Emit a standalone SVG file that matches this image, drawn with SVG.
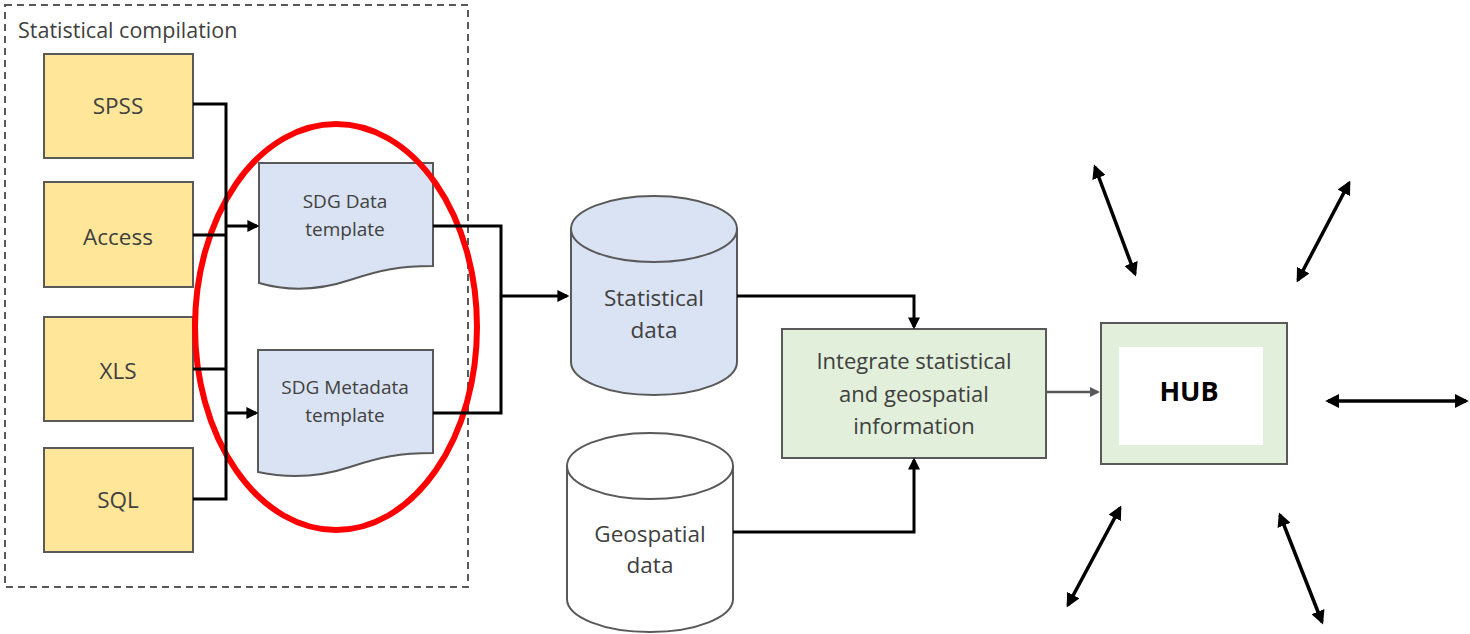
<svg xmlns="http://www.w3.org/2000/svg" width="1470" height="634" viewBox="0 0 1470 634">
<style>
.t{font-family:"Open Sans","Noto Sans","Liberation Sans",sans-serif;fill:#404040;text-anchor:middle}
.src{fill:#FFE699;stroke:#595959;stroke-width:2}
.doc{fill:#DAE3F3;stroke:#595959;stroke-width:2}
.db{stroke:#595959;stroke-width:2}
.grn{fill:#E2EFDA;stroke:#595959;stroke-width:2}
.ln{fill:none;stroke:#000;stroke-width:3}
.dbl{fill:none;stroke:#000;stroke-width:3.5}
</style>
<defs>
<marker id="ah" viewBox="0 0 10 10" refX="8" refY="5" markerWidth="4" markerHeight="4" orient="auto-start-reverse">
<path d="M0,0 L10,5 L0,10 z" fill="#000"/>
</marker>
<marker id="ahg" viewBox="0 0 10 10" refX="8" refY="5" markerWidth="4" markerHeight="4" orient="auto">
<path d="M0,0 L10,5 L0,10 z" fill="#595959"/>
</marker>
</defs>
<rect width="1470" height="634" fill="#fff"/>

<g id="compilation">
<rect x="5" y="5" width="463" height="582" fill="none" stroke="#595959" stroke-width="2" stroke-dasharray="7,5"/>
<text class="t" x="18" y="38" font-size="21.5" style="text-anchor:start">Statistical compilation</text>
</g>

<g id="spss"><rect class="src" x="44" y="54" width="149" height="104"/><text class="t" x="118" y="114" font-size="22.5">SPSS</text></g>
<g id="access"><rect class="src" x="44" y="182" width="149" height="105"/><text class="t" x="118" y="245" font-size="22.5">Access</text></g>
<g id="xls"><rect class="src" x="44" y="317" width="149" height="104"/><text class="t" x="118" y="379" font-size="22.5">XLS</text></g>
<g id="sql"><rect class="src" x="44" y="448" width="149" height="104"/><text class="t" x="118" y="508" font-size="22.5">SQL</text></g>

<g id="sdg-data">
<path class="doc" d="M259,163 H433 V266 C400,266 380,270 350,280 C320,290 290,292 259,283 Z"/>
<text class="t" x="345" y="208" font-size="19">SDG Data</text>
<text class="t" x="345" y="236" font-size="19">template</text>
</g>
<g id="sdg-metadata">
<path class="doc" d="M258,350 H433 V453 C400,453 380,457 350,467 C320,477 290,479 258,472 Z"/>
<text class="t" x="345" y="394" font-size="19">SDG Metadata</text>
<text class="t" x="345" y="422" font-size="19">template</text>
</g>

<g id="statistical-data">
<path class="db" fill="#DAE3F3" d="M571,229 V362 A83,33 0 0 0 737,362 V229 Z"/>
<ellipse class="db" fill="#DAE3F3" cx="654" cy="229" rx="83" ry="33"/>
<text class="t" x="654" y="306" font-size="22.5">Statistical</text>
<text class="t" x="654" y="338" font-size="22.5">data</text>
</g>
<g id="geospatial-data">
<path class="db" fill="#fff" d="M567,466 V599 A83,33 0 0 0 733,599 V466 Z"/>
<ellipse class="db" fill="#fff" cx="650" cy="466" rx="83" ry="33"/>
<text class="t" x="650" y="542" font-size="22.5">Geospatial</text>
<text class="t" x="650" y="573" font-size="22.5">data</text>
</g>

<g id="integrate">
<rect class="grn" x="782" y="329" width="264" height="129"/>
<text class="t" x="914" y="369" font-size="22">Integrate statistical</text>
<text class="t" x="914" y="402" font-size="22">and geospatial</text>
<text class="t" x="914" y="434" font-size="22">information</text>
</g>

<g id="hub">
<rect class="grn" x="1101" y="323" width="186" height="141"/>
<rect x="1119" y="347" width="144" height="98" fill="#fff"/>
<text x="1189" y="401" font-size="27" font-weight="bold" text-anchor="middle" fill="#000" font-family="'Open Sans','Noto Sans','Liberation Sans',sans-serif">HUB</text>
</g>

<g id="ellipse-highlight">
<ellipse cx="336" cy="327" rx="141" ry="203" fill="none" stroke="#FF0000" stroke-width="6"/>
</g>

<g id="connectors">
<path class="ln" d="M193,104 H226 V499 H193"/>
<path class="ln" d="M193,235 H226"/>
<path class="ln" d="M193,369 H226"/>
<path class="ln" d="M226,226 H257" marker-end="url(#ah)"/>
<path class="ln" d="M226,413 H256" marker-end="url(#ah)"/>
<path class="ln" d="M433,226 H501 V413 H433"/>
<path class="ln" d="M501,296 H567" marker-end="url(#ah)"/>
<path class="ln" d="M737,296 H914 V327" marker-end="url(#ah)"/>
<path class="ln" d="M733,532 H914 V460" marker-end="url(#ah)"/>
<path d="M1047,392 H1098" fill="none" stroke="#595959" stroke-width="2.5" marker-end="url(#ahg)"/>
<path class="dbl" d="M1095,167 L1135,274" marker-start="url(#ah)" marker-end="url(#ah)"/>
<path class="dbl" d="M1349,183 L1298,280" marker-start="url(#ah)" marker-end="url(#ah)"/>
<path class="dbl" d="M1328,401 H1466" marker-start="url(#ah)" marker-end="url(#ah)"/>
<path class="dbl" d="M1120,508 L1068,605" marker-start="url(#ah)" marker-end="url(#ah)"/>
<path class="dbl" d="M1280,515 L1322,622" marker-start="url(#ah)" marker-end="url(#ah)"/>
</g>
</svg>
